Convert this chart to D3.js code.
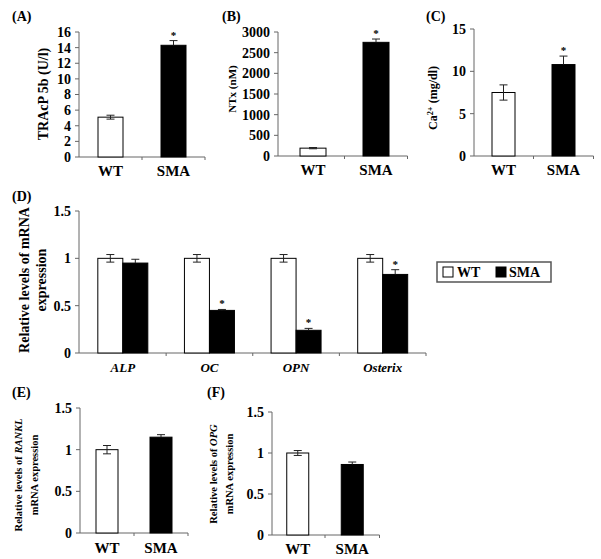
<!DOCTYPE html>
<html><head><meta charset="utf-8">
<script src="https://cdn.jsdelivr.net/npm/d3@7"></script>
<style>
body{margin:0;background:#fff}
svg text{font-family:"Liberation Serif","DejaVu Serif","Times New Roman",serif;font-weight:bold}
</style>
</head><body>
<script>
// ---- data ----
const groups = ["WT", "SMA"];
const tracpValues = [5.1, 14.3];
const tracpErrors = [0.25, 0.6];
const tracpTicks = [0, 2, 4, 6, 8, 10, 12, 14, 16];
const ntxValues = [190, 2750];
const ntxErrors = [15, 80];
const ntxTicks = [0, 500, 1000, 1500, 2000, 2500, 3000];
const caValues = [7.5, 10.8];
const caErrors = [0.9, 1.0];
const caTicks = [0, 5, 10, 15];
const genes = ["ALP", "OC", "OPN", "Osterix"];
const geneWT = [1.0, 1.0, 1.0, 1.0];
const geneWTErr = [0.04, 0.04, 0.04, 0.04];
const geneSMA = [0.95, 0.45, 0.24, 0.83];
const geneSMAErr = [0.04, 0.01, 0.02, 0.05];
const geneSig = [false, true, true, true];
const relTicks = [0, 0.5, 1, 1.5];
const ranklValues = [1.0, 1.15];
const ranklErrors = [0.05, 0.03];
const opgValues = [1.0, 0.86];
const opgErrors = [0.03, 0.03];
const groupSig2 = [false, true];
const noSig2 = [false, false];
const fills = ["#fff", "#000"];

const W = 601, H = 559;
const svg = d3.select("body").append("svg").attr("width", W).attr("height", H);
const axisColor = "#666";

function panel(o){
  const g = svg.append("g");
  const y = d3.scaleLinear().domain([0, o.max]).range([o.y0, o.y1]);
  const x = d3.scaleBand().domain(o.cats).range(o.band);
  g.append("line").attr("x1", o.x0).attr("x2", o.x0).attr("y1", o.y0).attr("y2", y(o.max)).attr("stroke", axisColor);
  o.ticks.forEach(t => {
    g.append("line").attr("x1", o.x0 - 4).attr("x2", o.x0).attr("y1", y(t)).attr("y2", y(t)).attr("stroke", axisColor);
    g.append("text").attr("x", o.x0 - 8).attr("y", y(t)).attr("dy", "0.35em").attr("text-anchor", "end")
      .attr("font-size", o.tickSize).text(String(t));
  });
  g.append("line").attr("x1", o.x0).attr("x2", o.band[1]).attr("y1", o.y0).attr("y2", o.y0).attr("stroke", axisColor);
  o.cats.forEach((c, i) => {
    if (i > 0) g.append("line").attr("x1", x(c)).attr("x2", x(c)).attr("y1", o.y0).attr("y2", o.y0 + 3).attr("stroke", axisColor);
  });
  g.append("line").attr("x1", o.band[1]).attr("x2", o.band[1]).attr("y1", o.y0).attr("y2", o.y0 + 3).attr("stroke", axisColor);
  o.cats.forEach(c => {
    g.append("text").attr("x", x(c) + x.bandwidth() / 2).attr("y", o.y0 + o.catDy)
      .attr("text-anchor", "middle").attr("font-size", o.catSize)
      .style("font-style", o.catItalic ? "italic" : null).text(c);
  });
  o.bars.forEach(b => {
    const bx = x(b.cat) + x.bandwidth() / 2 + b.dx - o.barW / 2;
    const v = b.value, e = b.err;
    g.append("rect").attr("x", bx).attr("y", y(v)).attr("width", o.barW).attr("height", o.y0 - y(v))
      .attr("fill", b.fill).attr("stroke", "#000").attr("stroke-width", 1);
    const cx = bx + o.barW / 2;
    const dark = b.fill === "#000";
    const col = "#222";
    if (dark) {
      g.append("line").attr("x1", cx).attr("x2", cx).attr("y1", y(v)).attr("y2", y(v + e)).attr("stroke", col);
    } else {
      g.append("line").attr("x1", cx).attr("x2", cx).attr("y1", y(v - e)).attr("y2", y(v + e)).attr("stroke", col);
      g.append("line").attr("x1", cx - 4).attr("x2", cx + 4).attr("y1", y(v - e)).attr("y2", y(v - e)).attr("stroke", col);
    }
    g.append("line").attr("x1", cx - 4).attr("x2", cx + 4).attr("y1", y(v + e)).attr("y2", y(v + e)).attr("stroke", col);
    if (b.sig) {
      g.append("text").attr("x", cx).attr("y", y(v + e) - 2).attr("text-anchor", "middle")
        .attr("font-size", 11).text("*");
    }
  });
  g.append("text").attr("x", o.lx).attr("y", o.ly).attr("font-size", 14).text(o.label);
  return g;
}

function yTitle(lines, cx, cy, size, gap){
  lines.forEach((parts, i) => {
    const t = svg.append("text").attr("transform", `translate(${cx + i * gap},${cy}) rotate(-90)`)
      .attr("text-anchor", "middle").attr("dy", "0.35em").attr("font-size", size);
    parts.forEach(p => {
      const ts = t.append("tspan").text(p.t);
      if (p.i) ts.style("font-style", "italic");
      if (p.sup) ts.attr("baseline-shift", "super").attr("font-size", size * 0.7);
    });
  });
}

const pairBars = (vals, errs, sigs) => groups.map((c, i) => ({cat: c, value: vals[i], err: errs[i], fill: fills[i], sig: sigs[i], dx: 0}));

// (A)
panel({x0: 79, band: [79, 205], y0: 157, y1: 32, max: 16, ticks: tracpTicks, cats: groups,
  tickSize: 14, catSize: 15, catDy: 19, barW: 25, label: "(A)", lx: 12, ly: 21,
  bars: pairBars(tracpValues, tracpErrors, groupSig2)});
yTitle([[{t: "TRAcP 5b (U/l)"}]], 43, 94, 14, 0);

// (B)
panel({x0: 278, band: [281.5, 407.5], y0: 156, y1: 32, max: 3000, ticks: ntxTicks, cats: groups,
  tickSize: 14, catSize: 15, catDy: 19, barW: 26, label: "(B)", lx: 222, ly: 21,
  bars: pairBars(ntxValues, ntxErrors, groupSig2)});
yTitle([[{t: "NTx (nM)"}]], 232, 89, 11, 0);

// (C)
panel({x0: 474, band: [473.5, 593.5], y0: 156, y1: 29, max: 15, ticks: caTicks, cats: groups,
  tickSize: 14, catSize: 15, catDy: 19, barW: 23, label: "(C)", lx: 426, ly: 21,
  bars: pairBars(caValues, caErrors, groupSig2)});
yTitle([[{t: "Ca"}, {t: "2+", sup: true}, {t: " (mg/dl)"}]], 433, 98, 12, 0);

// (D)
const dBars = [];
genes.forEach((gname, i) => {
  dBars.push({cat: gname, value: geneWT[i], err: geneWTErr[i], fill: "#fff", sig: false, dx: -12.5});
  dBars.push({cat: gname, value: geneSMA[i], err: geneSMAErr[i], fill: "#000", sig: geneSig[i], dx: 12.5});
});
panel({x0: 79, band: [79.5, 426], y0: 353, y1: 211, max: 1.5, ticks: relTicks, cats: genes,
  tickSize: 14, catSize: 13, catDy: 19, catItalic: true, barW: 25, label: "(D)", lx: 12, ly: 201,
  bars: dBars});
yTitle([[{t: "Relative levels of mRNA"}], [{t: "expression"}]], 24, 280, 14, 17);

// legend
const lg = svg.append("g");
lg.append("rect").attr("x", 437).attr("y", 262).attr("width", 114).attr("height", 20)
  .attr("fill", "#fff").attr("stroke", "#555").attr("stroke-width", 1.5);
lg.append("rect").attr("x", 443).attr("y", 267).attr("width", 10).attr("height", 10).attr("fill", "#fff").attr("stroke", "#000");
lg.append("text").attr("x", 457).attr("y", 277).attr("font-size", 14).text(groups[0]);
lg.append("rect").attr("x", 496).attr("y", 267).attr("width", 10).attr("height", 10).attr("fill", "#000").attr("stroke", "#000");
lg.append("text").attr("x", 509).attr("y", 277).attr("font-size", 14).text(groups[1]);

// (E)
panel({x0: 80, band: [80, 188], y0: 533, y1: 408, max: 1.5, ticks: relTicks, cats: groups,
  tickSize: 14, catSize: 15, catDy: 20, barW: 22, label: "(E)", lx: 12, ly: 397,
  bars: pairBars(ranklValues, ranklErrors, noSig2)});
yTitle([[{t: "Relative levels of "}, {t: "RANKL", i: true}], [{t: "mRNA expression"}]], 18, 475, 10.5, 16);

// (F)
panel({x0: 272, band: [270.5, 379.5], y0: 535, y1: 412, max: 1.5, ticks: relTicks, cats: groups,
  tickSize: 14, catSize: 15, catDy: 19, barW: 22, label: "(F)", lx: 207, ly: 397,
  bars: pairBars(opgValues, opgErrors, noSig2)});
yTitle([[{t: "Relative levels of "}, {t: "OPG", i: true}], [{t: "mRNA expression"}]], 213, 474, 10.5, 16);
</script>
</body></html>
